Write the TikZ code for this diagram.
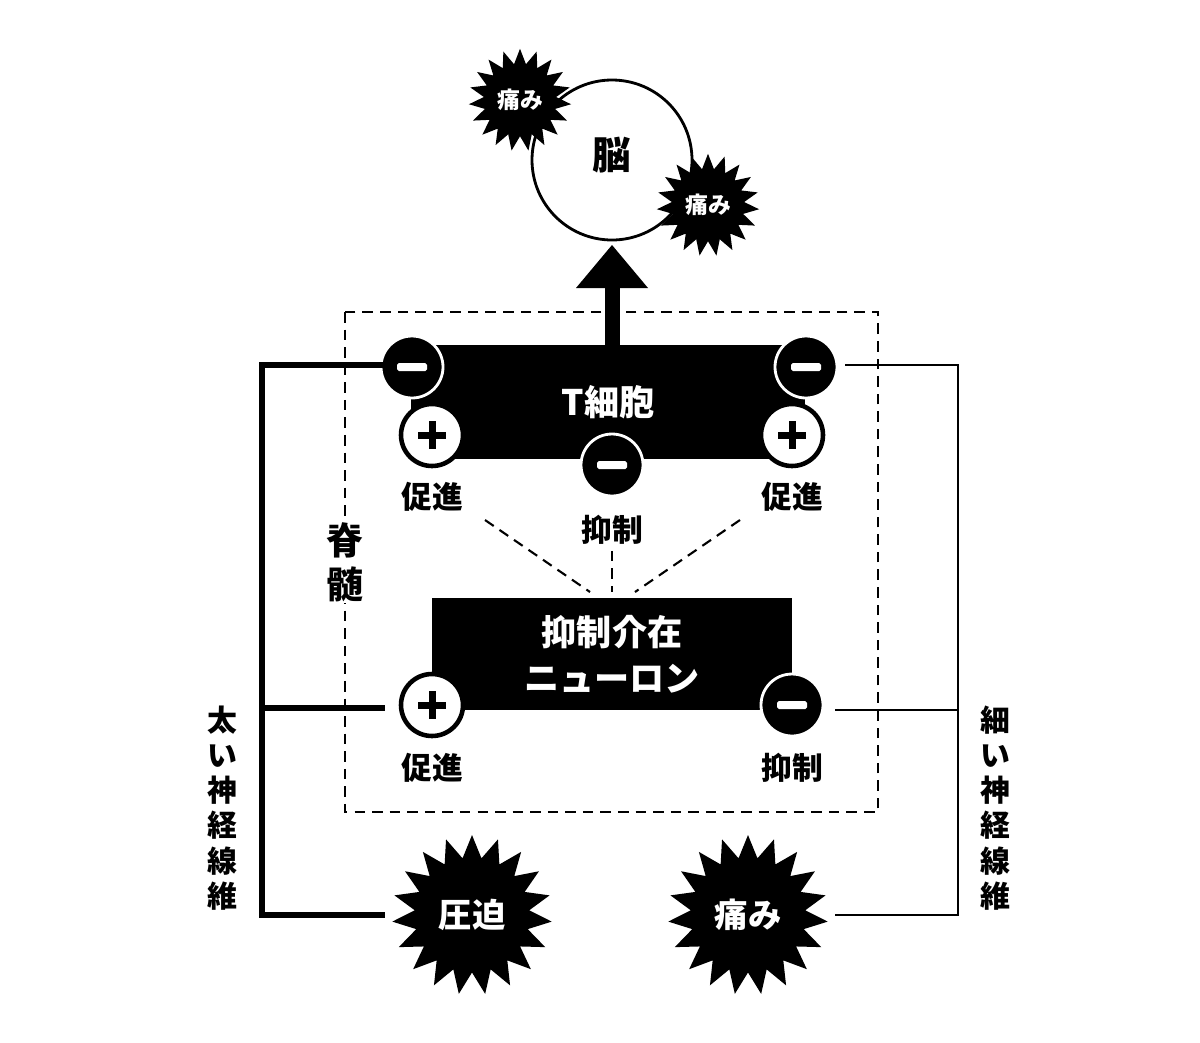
\documentclass[tikz,border=0pt]{standalone}
\usepackage{fontspec}
\setmainfont{Noto Sans CJK JP}
\usetikzlibrary{shapes.symbols}
\tikzset{
  px/.style={x=0.02cm,y=-0.02cm},
  burst/.style={starburst,random starburst=0,starburst points=19,fill=black,draw=none,
    text=white,font=\bfseries\fontsize{#1}{#1}\selectfont,inner sep=0pt},
  burst/.default=14pt,
  blk/.style={fill=black,draw=none,text=white,font=\bfseries\fontsize{20pt}{26pt}\selectfont,align=center},
  sign/.style={circle,minimum size=1.24cm,inner sep=0pt},
  minus/.style={sign,fill=black,draw=white,line width=1.6pt,
    path picture={\fill[white,rounded corners=1pt] ([xshift=-0.3cm,yshift=-0.08cm]path picture bounding box.center) rectangle ++(0.6cm,0.16cm);}},
  plus/.style={sign,fill=white,draw=black,line width=2.6pt,
    path picture={\fill[black] ([xshift=-0.28cm,yshift=-0.07cm]path picture bounding box.center) rectangle ++(0.56cm,0.14cm);
      \fill[black] ([xshift=-0.07cm,yshift=-0.28cm]path picture bounding box.center) rectangle ++(0.14cm,0.56cm);}},
  lab/.style={font=\bfseries\fontsize{17.5pt}{20pt}\selectfont},
  vtext/.style={font=\bfseries\fontsize{17pt}{20pt}\selectfont,align=center,inner sep=1pt},
  dline/.style={line width=1.2pt,dash pattern=on 6pt off 4pt},
}
\begin{document}
\begin{tikzpicture}[px]
  \useasboundingbox[fill=white] (0,0) rectangle (1200,1042);

  % brain
  \draw[line width=1.6pt] (612,160) circle (80);
  \node[font=\bfseries\fontsize{22pt}{22pt}\selectfont] (brain) at (612,155) {脳};
  \node[burst=13pt,minimum size=2.05cm,starburst point height=0.3cm] (pain1) at (520,100) {痛み};
  \node[burst=13pt,minimum size=2.05cm,starburst point height=0.3cm] (pain2) at (708,205) {痛み};

  % spinal cord frame
  \draw[dline] (345,312) rectangle (878,812);
  \node[fill=white,font=\bfseries\fontsize{21pt}{25pt}\selectfont,align=center,inner sep=1pt] (cord) at (345,562) {脊\\髄};

  % T cell
  \node[blk,minimum width=7.9cm,minimum height=2.3cm] (tcell) at (608,402) {T細胞};
  \fill (605,345) rectangle (620,285);
  \fill (576,288) -- (612,245) -- (648,288) -- cycle;
  \node[minus] (tm1) at (412,367) {};
  \node[minus] (tm2) at (806,367) {};
  \node[plus] (tp1) at (432,435) {};
  \node[plus] (tp2) at (792,435) {};
  \node[minus] (tm3) at (612,465) {};
  \node[lab] (l1) at (432,497) {促進};
  \node[lab] (l2) at (612,530) {抑制};
  \node[lab] (l3) at (792,497) {促進};

  % interneuron
  \node[blk,minimum width=7.2cm,minimum height=2.24cm] (inter) at (612,654) {抑制介在\\ニューロン};
  \node[plus] (ip) at (432,705) {};
  \node[minus] (im) at (792,705) {};
  \node[lab] (l4) at (432,768) {促進};
  \node[lab] (l5) at (792,768) {抑制};
  \coordinate (d0) at (612,592);
  \draw[dline] (485,520) -- (590,592);
  \draw[dline] (l2.south) -- (d0);
  \draw[dline] (740,520) -- (635,592);

  % stimuli
  \node[burst=19pt,minimum size=3.2cm,starburst point height=0.45cm] (press) at (472,915) {圧迫};
  \node[burst=19pt,minimum size=3.2cm,starburst point height=0.45cm] (pain3) at (748,915) {痛み};

  % thick fibre
  \draw[line width=3pt] (385,365) -| (262,915) -- (385,915);
  \draw[line width=3pt] (262,708) -- (385,708);
  \node[vtext] (thick) at (222,808) {太\\い\\神\\経\\線\\維};

  % thin fibre
  \draw[line width=0.8pt] (845,365) -| (958,915) -- (835,915);
  \draw[line width=0.8pt] (835,710) -- (958,710);
  \node[vtext] (thin) at (995,808) {細\\い\\神\\経\\線\\維};
\end{tikzpicture}
\end{document}
